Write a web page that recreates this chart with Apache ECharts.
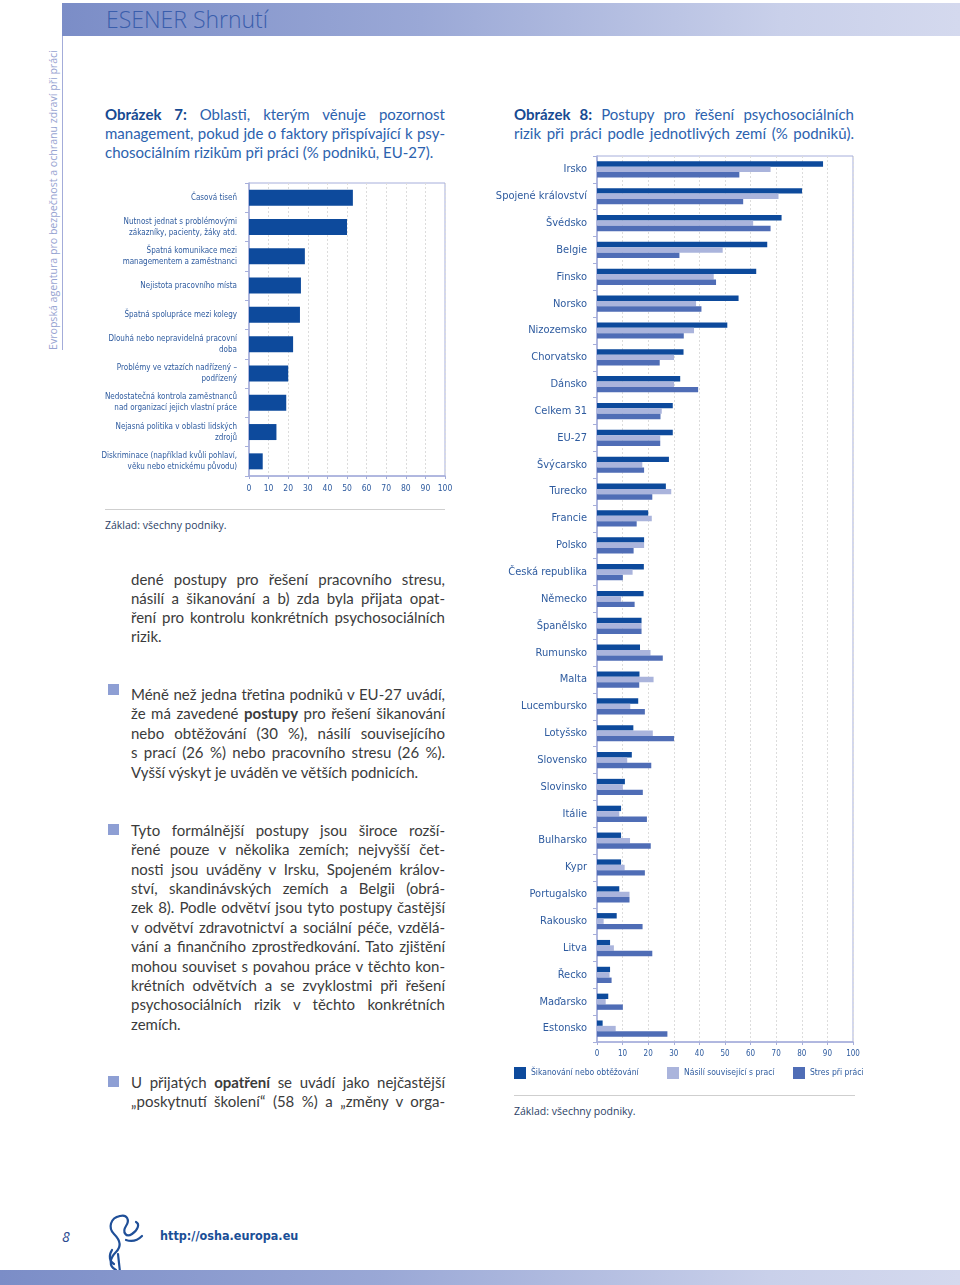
<!DOCTYPE html>
<html><head><meta charset="utf-8">
<script src="https://cdn.jsdelivr.net/npm/echarts@6/dist/echarts.min.js"></script>
<style>
html,body{margin:0;padding:0;background:#fff;}
#page{position:relative;width:960px;height:1285px;overflow:hidden;font-family:Lato,"Open Sans",sans-serif;}
.band{position:absolute;left:62px;right:0;background:linear-gradient(to right,#7b8dc7 0%,#9aa8d6 40%,#c9d0ea 80%,#d4d9ee 100%);}
.ln{position:absolute;white-space:nowrap;text-align:justify;text-align-last:justify;}
.last{text-align:left;text-align-last:left;}
.body{left:131px;width:314px;font-size:15px;color:#3b3b3b;}
.tl{font-size:15px;color:#2c62ae;}
.tl b{color:#174a92;}
.bul{position:absolute;left:108px;width:11px;height:11px;background:#8e9fd4;}
#chart{position:absolute;left:0;top:0;width:960px;height:1285px;}
</style></head>
<body><div id="page">
<div class="band" style="top:3px;height:33px;"></div>
<div style="position:absolute;left:106px;top:3px;font-family:'Open Sans',sans-serif;font-weight:300;font-size:23px;color:#3a5eac;line-height:33px;">ESENER Shrnutí</div>
<div style="position:absolute;left:62px;top:36px;width:1px;height:314px;background:#a3acd9;"></div>
<div style="position:absolute;left:46px;top:350px;transform-origin:0 0;transform:rotate(-90deg);white-space:nowrap;font-family:'Open Sans',sans-serif;font-size:10.6px;color:#96a3d1;line-height:14px;">Evropská agentura pro bezpečnost a ochranu zdraví při práci</div>

<div class="ln tl" style="left:105px;width:340px;top:105px;"><b>Obrázek 7:</b> Oblasti, kterým věnuje pozornost</div>
<div class="ln tl" style="left:105px;width:340px;top:124px;">management, pokud jde o faktory přispívající k psy-</div>
<div class="ln tl last" style="left:105px;width:340px;top:143px;">chosociálním rizikům při práci (% podniků, EU-27).</div>

<div class="ln tl" style="left:514px;width:340px;top:105px;"><b>Obrázek 8:</b> Postupy pro řešení psychosociálních</div>
<div class="ln tl" style="left:514px;width:340px;top:124px;">rizik při práci podle jednotlivých zemí (% podniků).</div>

<div style="position:absolute;left:105px;top:509px;width:340px;height:1px;background:#cfcfcf;"></div>
<div style="position:absolute;left:105px;top:518px;font-family:'Open Sans',sans-serif;font-size:10.5px;color:#2d3f66;">Základ: všechny podniky.</div>
<div style="position:absolute;left:514px;top:1095px;width:341px;height:1px;background:#cfcfcf;"></div>
<div style="position:absolute;left:514px;top:1104px;font-family:'Open Sans',sans-serif;font-size:10.5px;color:#2d3f66;">Základ: všechny podniky.</div>

<div class="ln body" style="top:570px;">dené postupy pro řešení pracovního stresu,</div>
<div class="ln body" style="top:589px;">násilí a šikanování a b) zda byla přijata opat-</div>
<div class="ln body" style="top:608px;">ření pro kontrolu konkrétních psychosociálních</div>
<div class="ln body last" style="top:627px;">rizik.</div>

<div class="bul" style="top:684px;"></div>
<div class="ln body" style="top:685px;">Méně než jedna třetina podniků v EU-27 uvádí,</div>
<div class="ln body" style="top:704px;">že má zavedené <b>postupy</b> pro řešení šikanování</div>
<div class="ln body" style="top:724px;">nebo obtěžování (30 %), násilí souvisejícího</div>
<div class="ln body" style="top:743px;">s prací (26 %) nebo pracovního stresu (26 %).</div>
<div class="ln body last" style="top:763px;">Vyšší výskyt je uváděn ve větších podnicích.</div>

<div class="bul" style="top:824px;"></div>
<div class="ln body" style="top:821px;">Tyto formálnější postupy jsou široce rozší-</div>
<div class="ln body" style="top:840px;">řené pouze v několika zemích; nejvyšší čet-</div>
<div class="ln body" style="top:860px;">nosti jsou uváděny v Irsku, Spojeném králov-</div>
<div class="ln body" style="top:879px;">ství, skandinávských zemích a Belgii (obrá-</div>
<div class="ln body" style="top:898px;">zek 8). Podle odvětví jsou tyto postupy častější</div>
<div class="ln body" style="top:918px;">v odvětví zdravotnictví a sociální péče, vzdělá-</div>
<div class="ln body" style="top:937px;">vání a finančního zprostředkování. Tato zjištění</div>
<div class="ln body" style="top:957px;">mohou souviset s povahou práce v těchto kon-</div>
<div class="ln body" style="top:976px;">krétních odvětvích a se zvyklostmi při řešení</div>
<div class="ln body" style="top:995px;">psychosociálních rizik v těchto konkrétních</div>
<div class="ln body last" style="top:1015px;">zemích.</div>

<div class="bul" style="top:1076px;"></div>
<div class="ln body" style="top:1073px;">U přijatých <b>opatření</b> se uvádí jako nejčastější</div>
<div class="ln body" style="top:1092px;">„poskytnutí školení“ (58 %) a „změny v orga-</div>

<div style="position:absolute;left:62px;top:1227px;font-family:'Open Sans',sans-serif;font-style:italic;font-size:14px;color:#2b4b90;">8</div>
<svg style="position:absolute;left:100px;top:1212px;" width="50" height="62" viewBox="0 0 50 62">
<g fill="none" stroke="#1f4f98" stroke-width="2.2" stroke-linecap="round">
<path d="M20 4 C10 6 8 16 14 22 C20 28 22 34 16 40 C10 46 8 54 16 58"/>
<path d="M20 4 C27 2 30 8 26 14 C22 20 26 26 32 22 C38 18 40 12 36 10"/>
<path d="M26 28 C32 30 38 28 42 24"/>
<path d="M12 38 C8 44 10 50 14 52"/>
<path d="M18 42 L20 60"/>
</g></svg>
<div style="position:absolute;left:160px;top:1228px;font-family:'DejaVu Sans Condensed','Liberation Sans Narrow',sans-serif;font-weight:bold;font-size:12.5px;color:#1a4e96;">http://osha.europa.eu</div>
<div class="band" style="left:0;top:1270px;height:15px;"></div>

<div id="chart"></div>
</div>
<script>
// Figure 7 data
const factors = [
  "Časová tiseň",
  "Nutnost jednat s problémovými\nzákazníky, pacienty, žáky atd.",
  "Špatná komunikace mezi\nmanagementem a zaměstnanci",
  "Nejistota pracovního místa",
  "Špatná spolupráce mezi kolegy",
  "Dlouhá nebo nepravidelná pracovní\ndoba",
  "Problémy ve vztazích nadřízený –\npodřízený",
  "Nedostatečná kontrola zaměstnanců\nnad organizací jejich vlastní práce",
  "Nejasná politika v oblasti lidských\nzdrojů",
  "Diskriminace (například kvůli pohlaví,\nvěku nebo etnickému původu)"
];
const factorValues = [53, 50, 28.5, 26.5, 26, 22.5, 20, 19, 14, 7];

// Figure 8 data
const countries = ["Irsko","Spojené království","Švédsko","Belgie","Finsko","Norsko","Nizozemsko","Chorvatsko","Dánsko","Celkem 31","EU-27","Švýcarsko","Turecko","Francie","Polsko","Česká republika","Německo","Španělsko","Rumunsko","Malta","Lucembursko","Lotyšsko","Slovensko","Slovinsko","Itálie","Bulharsko","Kypr","Portugalsko","Rakousko","Litva","Řecko","Maďarsko","Estonsko"];
const seriesNames = ["Šikanování nebo obtěžování","Násilí související s prací","Stres při práci"];
const bullying = [88.3,80.1,72.1,66.5,62.2,55.3,50.9,33.8,32.5,29.6,29.6,28.1,26.9,20.0,18.4,18.3,18.2,17.4,16.8,16.6,16.1,14.2,13.6,10.9,9.4,9.4,9.4,8.7,7.7,5.1,5.1,4.4,2.2];
const violence = [67.8,70.9,61.0,49.1,45.6,38.7,37.9,30.1,30.1,25.3,24.7,17.7,29.0,21.4,18.4,13.9,9.4,17.4,20.9,22.1,13.0,21.8,11.8,10.1,8.7,12.9,10.8,12.7,2.6,6.6,4.9,3.4,7.3];
const stress = [55.6,57.1,67.8,32.2,46.5,40.8,33.9,24.5,39.5,24.8,24.7,18.4,21.6,15.5,14.3,10.1,14.7,17.4,25.7,16.5,18.7,30.1,21.2,17.9,19.5,21.0,18.7,12.7,17.8,21.6,5.7,10.1,27.5];

const COND = "'Liberation Sans Narrow','DejaVu Sans Condensed','Arial Narrow',sans-serif";
const LBL = '#2e5b9f';
const AX = '#a6aedb';
const colors = ['#0d4a9c','#aab4dc','#4f6db6'];

const chart = echarts.init(document.getElementById('chart'), null, {renderer:'canvas'});
const xAx = (gi, fs) => ({
  type:'value', gridIndex:gi, min:0, max:100, interval:10,
  axisLine:{show:true,lineStyle:{color:AX,width:1.5}},
  axisTick:{show:true,length:3,lineStyle:{color:AX}},
  axisLabel:{color:LBL,fontFamily:COND,fontSize:fs,margin:8},
  splitLine:{show:true,lineStyle:{color:'#dcdcdc',type:[2,2],width:1}}
});
chart.setOption({
  animation:false,
  grid:[
    {left:249,top:183,width:196,height:293,show:true,borderColor:AX,borderWidth:1,containLabel:false},
    {left:597,top:156,width:256,height:886,show:true,borderColor:AX,borderWidth:1,containLabel:false}
  ],
  legend: seriesNames.map((n,i)=>({
    data:[n], left:[514,667,793][i], top:1067, itemWidth:12, itemHeight:12, icon:'rect', padding:0,
    textStyle:{color:LBL,fontFamily:COND,fontSize:8.5}, selectedMode:false
  })),
  xAxis:[xAx(0,8.5), xAx(1,8)],
  yAxis:[
    {type:'category',gridIndex:0,data:factors,inverse:true,
     axisLine:{show:true,lineStyle:{color:AX,width:1.5}},
     axisTick:{show:true,length:4,lineStyle:{color:AX}},
     axisLabel:{color:LBL,fontFamily:COND,fontSize:8,lineHeight:11,margin:12,align:'right'}},
    {type:'category',gridIndex:1,data:countries,inverse:true,
     axisLine:{show:true,lineStyle:{color:AX,width:1.5}},
     axisTick:{show:true,length:4,lineStyle:{color:AX}},
     axisLabel:{color:LBL,fontFamily:COND,fontSize:11,margin:10}}
  ],
  series:[
    {type:'bar',xAxisIndex:0,yAxisIndex:0,data:factorValues,barWidth:16,itemStyle:{color:'#0d4a9c'}},
    {name:seriesNames[0],type:'bar',xAxisIndex:1,yAxisIndex:1,data:bullying,barWidth:5.4,barGap:'0%',itemStyle:{color:colors[0]}},
    {name:seriesNames[1],type:'bar',xAxisIndex:1,yAxisIndex:1,data:violence,barWidth:5.4,barGap:'0%',itemStyle:{color:colors[1]}},
    {name:seriesNames[2],type:'bar',xAxisIndex:1,yAxisIndex:1,data:stress,barWidth:5.4,barGap:'0%',itemStyle:{color:colors[2]}}
  ]
});
</script>
</body></html>
